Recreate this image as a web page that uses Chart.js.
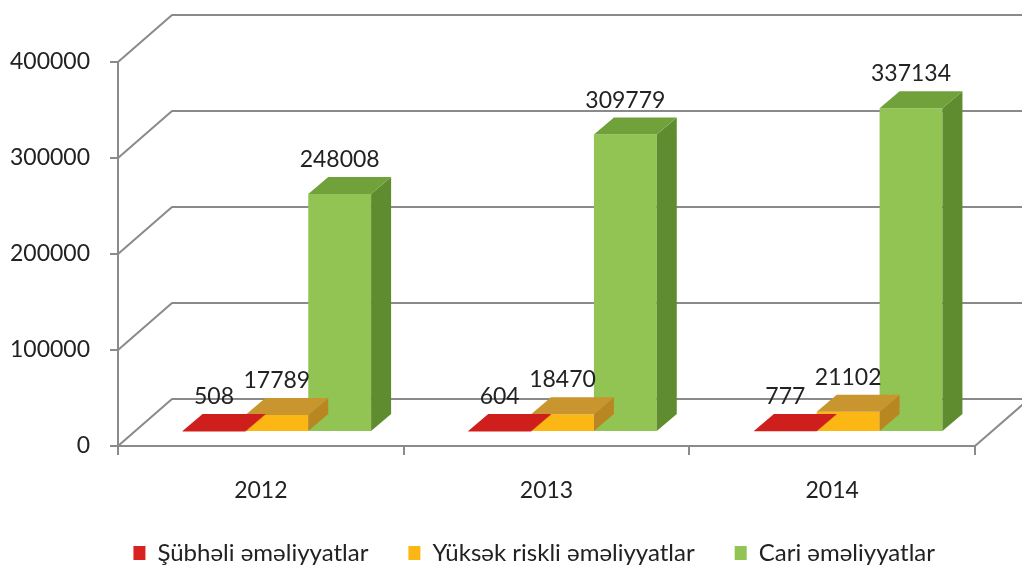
<!DOCTYPE html>
<html>
<head>
<meta charset="utf-8">
<script src="https://cdn.jsdelivr.net/npm/chart.js@4.4.0/dist/chart.umd.min.js"></script>
<style>
  html, body { margin: 0; padding: 0; background: #fff; }
  #wrap { width: 1022px; height: 571px; }
</style>
</head>
<body>
<div id="wrap"><canvas id="grafico"></canvas></div>
<script>
const years = ['2012', '2013', '2014'];
const subheli = [508, 604, 777];
const yuksekRiskli = [17789, 18470, 21102];
const cari = [248008, 309779, 337134];
const yTicks = [0, 100000, 200000, 300000, 400000];
const seriesNames = ['Şübhəli əməliyyatlar', 'Yüksək riskli əməliyyatlar', 'Cari əməliyyatlar'];

// front / top / side shades per series
const frontColors = ['#d9221f', '#fdb714', '#92c453'];
const topColors = ['#cf1f1d', '#c8952f', '#70a13b'];
const sideColors = ['#a81916', '#b98722', '#5f8c2f'];

const WALL = { dx: 54, dy: -47 };   // depth of the back wall
const PLANE = { dx: 16, dy: -14 };  // where the bars stand
const BAR = { dx: 20, dy: -17 };    // bar depth
const FONT = 'Lato, "Open Sans", sans-serif';
const GRID = '#8a8a8a';
const TEXT = '#222';

const poly = (ctx, pts, color) => {
    ctx.fillStyle = color;
    ctx.beginPath();
    ctx.moveTo(pts[0][0], pts[0][1]);
    pts.slice(1).forEach(p => ctx.lineTo(p[0], p[1]));
    ctx.closePath();
    ctx.fill();
};

const barBox = (bar) => {
    const p = bar.getProps(['x', 'y', 'base', 'width'], true);
    return {
        x: p.x,
        l: p.x - p.width / 2,
        r: p.x + p.width / 2,
        t: Math.min(p.y, p.base),
        b: Math.max(p.y, p.base)
    };
};

const box3d = {
    id: 'box3d',
    beforeDatasetsDraw(chart) {
        const { ctx, chartArea: a, scales: { y } } = chart;
        ctx.save();
        ctx.strokeStyle = GRID;
        ctx.lineWidth = 2;
        yTicks.forEach(v => {
            const py = y.getPixelForValue(v);
            ctx.beginPath();
            ctx.moveTo(a.left, py);
            ctx.lineTo(a.left + WALL.dx, py + WALL.dy);
            ctx.lineTo(chart.width, py + WALL.dy);
            ctx.stroke();
        });
        ctx.beginPath();
        ctx.moveTo(a.right, a.bottom);
        ctx.lineTo(a.right + WALL.dx, a.bottom + WALL.dy);
        ctx.stroke();
        ctx.restore();
    },
    beforeDatasetDraw(chart) {
        chart.ctx.save();
        chart.ctx.translate(PLANE.dx, PLANE.dy);
    },
    afterDatasetDraw(chart, args) {
        const ctx = chart.ctx;
        const i = args.index;
        args.meta.data.forEach(bar => {
            const b = barBox(bar);
            poly(ctx, [[b.r, b.t], [b.r + BAR.dx, b.t + BAR.dy], [b.r + BAR.dx, b.b + BAR.dy], [b.r, b.b]], sideColors[i]);
            poly(ctx, [[b.l, b.t], [b.l + BAR.dx, b.t + BAR.dy], [b.r + BAR.dx, b.t + BAR.dy], [b.r, b.t]], topColors[i]);
        });
        ctx.restore();
    },
    afterDatasetsDraw(chart) {
        const ctx = chart.ctx;
        ctx.save();
        ctx.font = '23px ' + FONT;
        ctx.fillStyle = TEXT;
        ctx.textAlign = 'center';
        ctx.textBaseline = 'alphabetic';
        chart.data.datasets.forEach((ds, i) => {
            chart.getDatasetMeta(i).data.forEach((bar, j) => {
                const b = barBox(bar);
                ctx.fillText(String(ds.data[j]), b.x + PLANE.dx, b.t + PLANE.dy + BAR.dy - 10);
            });
        });
        ctx.restore();
    }
};

const tickFont = { family: FONT, size: 23 };

new Chart(document.getElementById('grafico'), {
    type: 'bar',
    data: {
        labels: years,
        datasets: [subheli, yuksekRiskli, cari].map((d, i) => ({
            label: seriesNames[i],
            data: d,
            backgroundColor: frontColors[i],
            borderWidth: 0,
            clip: false,
            barPercentage: 1,
            categoryPercentage: 0.66
        }))
    },
    options: {
        responsive: true,
        maintainAspectRatio: false,
        animation: false,
        layout: { padding: { top: 62, right: 47, left: 0, bottom: -4 } },
        plugins: {
            legend: {
                position: 'bottom',
                align: 'end',
                labels: { font: { family: FONT, size: 24 }, color: TEXT, boxWidth: 12, boxHeight: 14, padding: 40 }
            },
            tooltip: { enabled: false }
        },
        scales: {
            x: {
                grid: { drawOnChartArea: false, tickLength: 9, color: GRID, lineWidth: 2 },
                border: { color: GRID, width: 2 },
                ticks: { font: tickFont, color: TEXT, padding: 22 },
                afterFit: s => { s.height = 55; }
            },
            y: {
                min: 0,
                max: 400000,
                ticks: { stepSize: 100000, font: tickFont, color: TEXT, padding: 20, callback: v => String(v) },
                grid: { drawOnChartArea: false, tickLength: 8, color: GRID, lineWidth: 2 },
                border: { color: GRID, width: 2 },
                afterFit: s => { s.width = 118; }
            }
        }
    },
    plugins: [box3d]
});
</script>
</body>
</html>
